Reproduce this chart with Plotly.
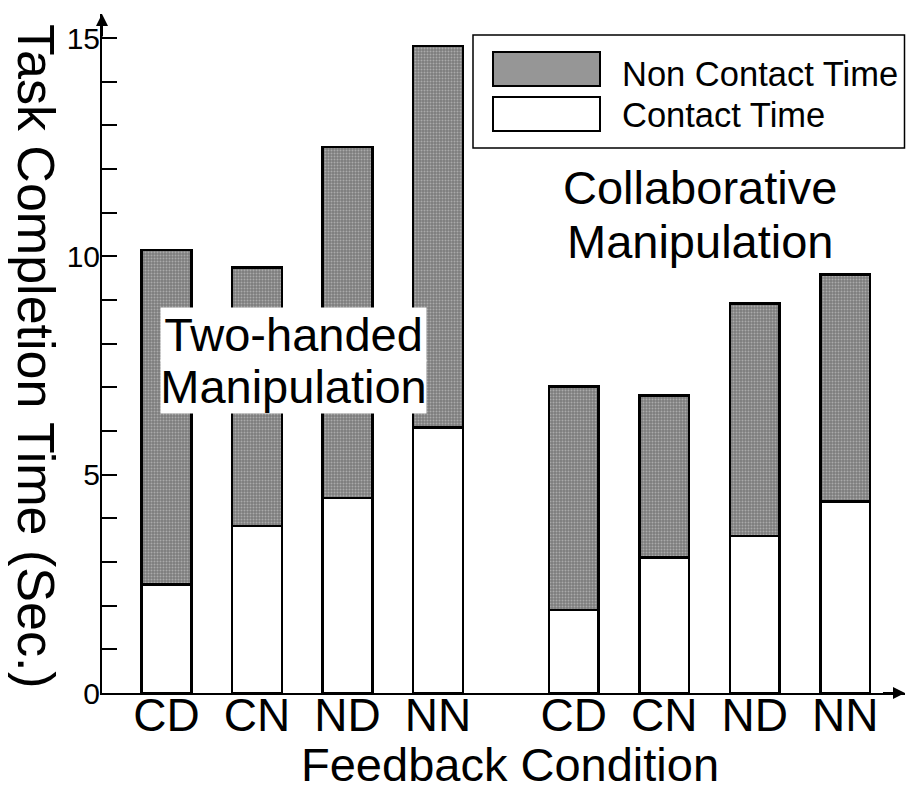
import plotly.graph_objects as go

# feedback conditions, two groups (two-handed / collaborative)
conditions = ['CD', 'CN', 'ND', 'NN', 'CD', 'CN', 'ND', 'NN']
x_pos = [0, 1, 2, 3, 4.5, 5.5, 6.5, 7.5]

contact_time = [2.48, 3.83, 4.47, 6.08, 1.90, 3.10, 3.60, 4.38]
non_contact_time = [7.66, 5.92, 8.03, 8.74, 5.12, 3.71, 5.32, 5.21]

y_ticks = list(range(16))
y_ticktext = [str(v) if v % 5 == 0 else '' for v in y_ticks]

FONT = 'Liberation Sans, Arial, sans-serif'
# the page body adds an 8px margin on every side -> keep the figure inside
OFF = 8
W, H = 914 - 2 * OFF, 791 - 2 * OFF
L, R, T, B = 102 - OFF, 1, 14 - OFF, 90
PW, PH = W - L - R, H - T - B


# helpers take positions measured on the screen
def px(x):
    return (x - OFF - L) / PW


def py(y):
    return (H - B - (y - OFF)) / PH


def label(txt, x, y, size, xanchor='center', **kw):
    fig.add_annotation(x=px(x), y=py(y), xref='paper', yref='paper',
                       text=txt, showarrow=False, xanchor=xanchor,
                       yanchor='middle', font=dict(size=size), **kw)


fig = go.Figure()

fig.add_trace(go.Bar(
    x=x_pos, y=contact_time, name='Contact Time', width=0.55,
    marker=dict(color='white', line=dict(color='black', width=2.5)),
))
fig.add_trace(go.Bar(
    x=x_pos, y=non_contact_time, name='Non Contact Time', width=0.55,
    marker=dict(color='#969696', line=dict(color='black', width=2.5),
                pattern=dict(shape='.', size=3, solidity=0.35,
                             fgcolor='#d8d8d8', bgcolor='#7c7c7c')),
))

fig.update_layout(
    barmode='stack',
    width=W, height=H,
    margin=dict(l=L, r=R, t=T, b=B),
    plot_bgcolor='white', paper_bgcolor='white',
    showlegend=False,
    font=dict(family=FONT, color='black'),
    xaxis=dict(
        range=[-0.713, 8.16], showline=True, linecolor='black', linewidth=2,
        tickvals=x_pos, ticktext=conditions, ticks='',
        tickfont=dict(size=46), showgrid=False, zeroline=False,
        automargin=False, ticklabelstandoff=-19,
    ),
    yaxis=dict(
        range=[0, 15.55], showline=True, linecolor='black', linewidth=2,
        tickvals=y_ticks, ticktext=y_ticktext, ticks='inside', ticklen=15,
        tickwidth=2, tickcolor='black', tickfont=dict(size=30),
        showgrid=False, zeroline=False, automargin=False,
        ticklabelstandoff=-6,
    ),
)

# axis arrows
fig.add_annotation(x=-0.713, y=15.55, ax=-0.713, ay=15.0, axref='x', ayref='y',
                   xref='x', yref='y', text='', showarrow=True,
                   arrowhead=2, arrowwidth=2, arrowsize=1.2, arrowcolor='black')
fig.add_annotation(x=8.16, y=0, ax=7.9, ay=0, axref='x', ayref='y',
                   xref='x', yref='y', text='', showarrow=True,
                   arrowhead=2, arrowwidth=2, arrowsize=1.2, arrowcolor='black')

# axis titles
label('Task Completion Time (Sec.)', 36, 356, 52, textangle=90, borderpad=0)
label('Feedback Condition', 510, 764, 47, borderpad=0)

# group labels
label('Two-handed', 293.5, 334, 47, bgcolor='white', width=265, borderpad=0)
label('Manipulation', 293.5, 386, 47, bgcolor='white', width=265, borderpad=0)
label('Collaborative', 700, 187, 47)
label('Manipulation', 700, 241, 47)

# legend drawn by hand (big swatches)
fig.add_shape(type='rect', xref='paper', yref='paper',
              x0=px(473), x1=px(904.5), y0=py(148), y1=py(35),
              line=dict(color='black', width=1.5), fillcolor='white')
fig.add_shape(type='rect', xref='paper', yref='paper',
              x0=px(493), x1=px(600), y0=py(86), y1=py(52),
              line=dict(color='black', width=2), fillcolor='#969696')
fig.add_shape(type='rect', xref='paper', yref='paper',
              x0=px(493), x1=px(600), y0=py(131), y1=py(97),
              line=dict(color='black', width=2), fillcolor='white')
label('Non Contact Time', 620, 74, 34.5, xanchor='left')
label('Contact Time', 620, 115, 34.5, xanchor='left')

fig.write_html("out.html")
